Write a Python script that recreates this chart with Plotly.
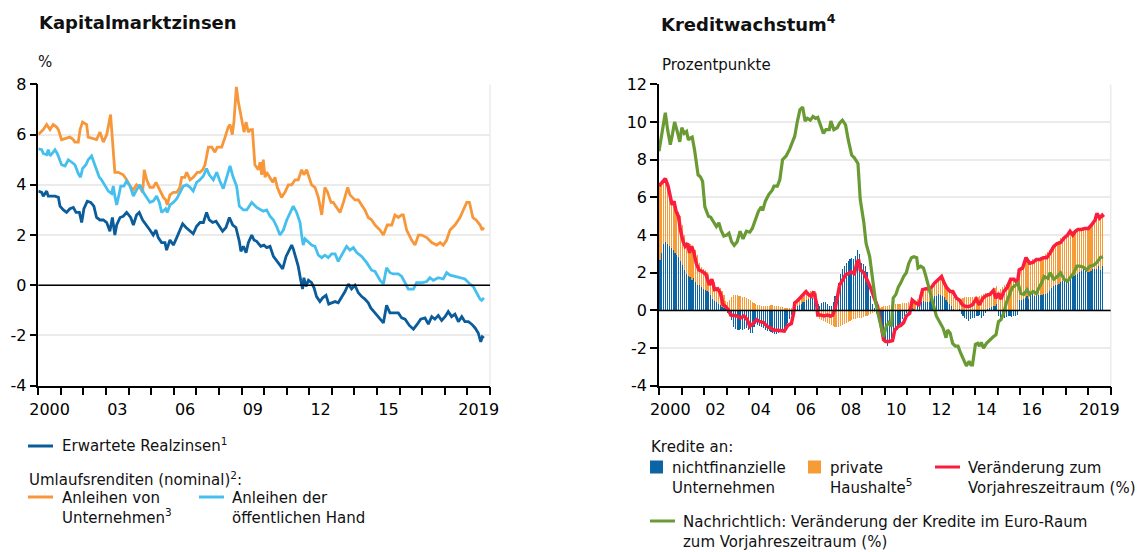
import plotly.graph_objects as go

# ---------------- Left chart: Kapitalmarktzinsen ----------------
real_t = [0.00,0.15,0.22,0.37,0.44,0.59,0.74,0.89,0.96,1.11,1.25,1.40,1.55,1.67,1.82,1.92,2.02,2.17,2.32,2.46,
          2.58,2.73,2.88,3.03,3.17,3.28,3.39,3.47,3.62,3.76,3.91,4.09,4.21,4.35,4.47,4.62,4.80,4.94,5.09,5.21,
          5.31,5.46,5.61,5.68,5.83,5.98,6.13,6.27,6.39,6.54,6.69,6.86,7.01,7.16,7.31,7.45,7.57,7.72,7.87,8.01,
          8.16,8.31,8.46,8.61,8.75,8.90,8.97,9.08,9.20,9.30,9.45,9.55,9.67,9.85,9.99,10.11,10.26,10.41,10.55,10.70,
          10.82,10.97,11.11,11.22,11.29,11.41,11.51,11.62,11.70,11.76,11.85,11.96,12.10,12.21,12.32,12.47,12.59,12.74,12.86,12.99,
          13.14,13.28,13.43,13.58,13.73,13.87,14.02,14.17,14.32,14.46,14.61,14.72,14.86,15.06,15.28,15.42,15.57,15.72,15.94,16.09,
          16.24,16.43,16.61,16.78,16.93,17.12,17.27,17.42,17.56,17.71,17.86,18.01,18.15,18.30,18.45,18.60,18.75,18.89,19.04,19.19,
          19.34,19.48,19.59,19.66,19.73]
real_v = [3.75,3.7,3.55,3.75,3.55,3.55,3.55,3.5,3.15,3.0,2.9,3.05,3.1,2.9,2.9,2.5,3.05,3.35,3.3,3.15,
          2.7,2.6,2.6,2.5,2.15,2.7,2.0,2.4,2.7,2.75,2.9,2.7,2.4,2.8,2.9,2.6,2.4,2.2,2.0,2.2,
          1.9,1.7,1.7,1.4,1.8,1.6,1.9,2.2,2.45,2.3,2.2,2.05,2.35,2.5,2.5,2.9,2.6,2.5,2.55,2.35,
          2.15,2.3,2.7,2.4,2.3,1.75,1.35,1.55,1.3,1.7,2.0,1.8,1.75,1.55,1.6,1.5,1.55,1.15,1.0,0.8,
          0.65,1.15,1.4,1.6,1.45,1.05,0.75,0.2,-0.15,0.3,-0.05,0.2,0.1,-0.1,-0.45,-0.65,-0.5,-0.4,-0.75,-0.7,
          -0.65,-0.7,-0.5,-0.25,0.05,-0.15,0.0,-0.3,-0.45,-0.55,-0.7,-0.9,-1.05,-1.25,-1.5,-0.8,-1.1,-1.1,-1.1,-1.3,
          -1.35,-1.6,-1.75,-1.55,-1.35,-1.3,-1.55,-1.25,-1.35,-1.2,-1.4,-1.25,-1.05,-1.25,-1.15,-1.45,-1.25,-1.45,-1.45,-1.55,
          -1.7,-1.9,-2.25,-2.05,-2.1]

corp_t = [0.00,0.22,0.37,0.52,0.66,0.81,0.89,1.03,1.40,1.55,1.62,1.77,1.85,1.96,2.14,2.21,2.58,2.73,2.88,3.03,
          3.20,3.39,3.54,3.76,3.91,4.10,4.21,4.35,4.50,4.62,4.69,4.80,4.94,5.09,5.21,5.36,5.54,5.64,5.71,5.83,
          5.98,6.13,6.27,6.35,6.49,6.57,6.72,6.86,6.97,7.04,7.16,7.28,7.38,7.53,7.68,7.82,7.93,8.12,8.27,8.41,
          8.49,8.59,8.66,8.77,8.86,8.96,9.11,9.20,9.30,9.40,9.48,9.59,9.74,9.82,9.89,9.96,10.04,10.11,10.26,10.38,
          10.48,10.58,10.77,10.92,11.07,11.22,11.37,11.51,11.66,11.76,11.88,12.10,12.25,12.40,12.55,12.62,12.69,12.81,12.96,13.06,
          13.21,13.36,13.51,13.62,13.70,13.80,14.02,14.17,14.46,14.61,14.76,14.91,15.13,15.28,15.45,15.65,15.79,15.94,16.09,16.16,
          16.31,16.53,16.68,16.83,16.97,17.20,17.42,17.64,17.79,17.93,18.08,18.23,18.45,18.67,18.82,18.97,19.09,19.24,19.38,19.56,
          19.65,19.73]
corp_v = [6.0,6.2,6.4,6.2,6.4,6.3,6.2,5.8,5.9,5.8,5.7,5.7,6.2,6.5,6.4,5.9,5.8,6.1,5.7,6.0,
          6.8,4.5,4.5,4.4,4.2,3.9,3.8,4.0,3.9,3.7,4.6,4.2,3.9,3.9,4.1,3.8,3.5,3.4,3.2,3.6,
          3.7,3.7,3.9,4.3,4.3,4.5,4.2,4.3,4.4,4.5,4.5,4.6,4.8,5.5,5.5,5.3,5.5,5.5,5.9,6.3,
          6.4,6.0,6.5,7.9,7.3,6.8,6.1,6.5,6.1,6.2,6.2,4.8,4.6,4.9,4.4,5.0,4.3,4.5,4.3,4.1,
          4.3,3.9,3.5,3.7,4.0,4.0,4.2,4.2,4.6,4.4,4.6,4.0,3.9,3.5,2.8,3.5,3.9,3.7,3.3,3.3,
          3.1,2.9,3.3,3.6,3.9,3.6,3.4,3.4,3.0,2.7,2.6,2.4,2.2,2.0,2.4,2.4,2.8,2.7,2.8,2.8,
          2.2,1.8,1.6,2.0,2.0,1.9,1.7,1.6,1.7,1.6,1.8,2.2,2.4,2.7,3.0,3.3,3.3,2.7,2.6,2.4,
          2.2,2.3]

govt_t = [0.00,0.15,0.22,0.37,0.44,0.52,0.66,0.74,0.84,1.03,1.18,1.33,1.48,1.62,1.77,1.87,1.96,2.11,2.21,2.36,
          2.44,2.58,2.70,2.80,2.95,3.10,3.25,3.32,3.39,3.47,3.57,3.65,3.79,3.91,4.06,4.21,4.35,4.50,4.65,4.80,
          4.94,5.09,5.24,5.36,5.46,5.64,5.71,5.83,5.98,6.13,6.27,6.42,6.57,6.72,6.86,7.01,7.16,7.31,7.45,7.57,
          7.75,7.90,8.04,8.19,8.34,8.49,8.63,8.78,8.90,9.08,9.23,9.45,9.67,9.96,10.11,10.26,10.41,10.55,10.70,10.85,
          11.00,11.14,11.29,11.44,11.59,11.66,11.73,11.81,11.96,12.10,12.25,12.40,12.55,12.69,12.84,12.99,13.14,13.28,13.43,13.65,
          13.80,13.95,14.10,14.32,14.54,14.76,14.91,15.13,15.28,15.42,15.57,15.72,15.94,16.09,16.24,16.38,16.61,16.75,16.97,17.20,
          17.34,17.49,17.71,17.93,18.08,18.23,18.45,18.67,18.89,19.11,19.26,19.41,19.56,19.63,19.73]
govt_v = [5.43,5.4,5.25,5.2,5.4,5.15,5.3,5.4,5.25,4.8,4.75,5.0,4.9,4.8,4.45,4.3,4.65,4.8,5.0,5.15,
          4.95,4.6,4.3,4.2,3.95,3.75,3.65,3.95,3.55,3.2,3.6,3.95,3.95,4.15,3.95,3.55,3.8,4.0,3.7,3.5,
          3.3,3.35,3.55,3.3,2.9,3.05,2.9,3.2,3.3,3.45,3.7,3.95,4.0,3.9,3.75,4.1,4.2,4.35,4.65,4.4,
          4.2,4.5,4.15,3.85,4.3,4.75,4.3,3.95,3.15,3.0,3.0,3.3,3.1,2.95,3.0,2.75,2.6,2.35,2.0,2.2,
          2.6,2.9,3.15,2.9,2.5,2.0,1.6,1.85,1.7,1.6,1.55,1.2,1.1,1.2,1.1,1.25,1.25,0.95,1.2,1.55,
          1.4,1.5,1.3,1.15,0.9,0.6,0.55,0.2,0.05,0.7,0.5,0.45,0.45,0.35,0.1,-0.15,-0.15,0.1,0.1,0.15,
          0.3,0.2,0.3,0.25,0.5,0.4,0.35,0.3,0.25,0.05,-0.05,-0.3,-0.55,-0.6,-0.5]

left_ticks = [2000.5, 2003.5, 2006.5, 2009.5, 2012.5, 2015.5, 2019.5]
left_labels = ["2000", "03", "06", "09", "12", "15", "2019"]

# ---------------- Right chart: Kreditwachstum ----------------
nfc_contrib = [  # nichtfinanzielle Unternehmen, monthly from Jan 2000
    2.65,3.0,3.5,3.6,3.5,3.4,3.3,3.2,3.05,2.9,2.8,2.6,
    2.4,2.1,1.9,1.8,1.75,1.6,1.7,1.5,1.35,1.3,1.2,1.1,
    1.05,1.0,0.95,0.8,0.6,0.5,0.4,0.3,0.25,0.15,0.1,0.05,
    -0.15,-0.3,-0.55,-0.9,-1.0,-1.05,-1.05,-1.0,-1.05,-1.0,-0.95,-1.05,
    -1.2,-1.2,-0.9,-0.75,-0.8,-0.85,-0.9,-0.95,-1.05,-1.1,-1.1,-1.15,
    -1.2,-1.25,-1.25,-1.2,-1.15,-1.1,-1.0,-0.85,-0.7,-0.5,-0.25,-0.1,
    0.05,0.2,0.25,0.3,0.4,0.45,0.55,0.6,0.65,0.65,0.55,0.5,
    0.3,0.2,0.35,0.4,0.4,0.3,0.2,0.2,0.45,0.75,0.75,1.45,
    1.9,2.15,2.35,2.5,2.6,2.7,2.75,2.7,2.85,3.2,2.95,2.5,
    2.45,2.35,2.0,1.4,0.75,0.3,0.1,-0.15,-0.3,-0.6,-1.2,-1.6,
    -1.75,-1.9,-1.7,-1.5,-1.3,-1.1,-1.05,-0.9,-0.7,-0.5,-0.3,-0.15,
    0.05,0.1,0.1,0.05,-0.05,0.2,0.35,0.45,0.5,0.4,0.4,0.4,
    0.65,0.7,0.75,0.75,0.85,0.8,0.75,0.7,0.55,0.4,0.3,0.2,
    0.05,0.0,0.0,0.05,-0.2,-0.3,-0.4,-0.5,-0.6,-0.5,-0.45,-0.4,
    -0.3,-0.3,-0.25,-0.4,-0.3,-0.15,0.05,0.1,0.15,0.2,0.2,0.3,
    -0.3,-0.4,-0.4,-0.4,-0.35,-0.3,-0.3,-0.35,-0.3,-0.3,-0.25,0.55,
    0.55,0.6,0.65,0.75,0.6,0.8,0.85,0.75,0.8,0.8,0.8,0.8,
    0.85,0.85,0.9,1.0,1.15,1.25,1.35,1.35,1.4,1.5,1.55,1.6,
    1.65,1.65,1.7,1.8,1.8,1.85,1.9,2.0,2.05,2.15,2.1,2.0,
    2.0,2.05,2.15,2.15,2.2,2.35,2.1,2.35]
hh_contrib = [  # private Haushalte, monthly from Jan 2000
    3.95,3.7,3.3,3.3,3.1,2.8,2.6,2.5,2.75,2.6,2.4,2.4,
    2.1,1.9,1.7,1.6,1.75,1.5,1.7,1.7,1.55,1.2,1.1,1.05,
    1.05,1.0,0.95,0.8,0.8,1.0,0.8,0.8,0.9,0.85,0.7,0.45,
    0.4,0.55,0.7,0.8,0.8,0.8,0.75,0.75,0.7,0.7,0.65,0.6,
    0.55,0.45,0.35,0.3,0.25,0.25,0.2,0.2,0.2,0.2,0.2,0.25,
    0.25,0.2,0.2,0.2,0.15,0.15,0.1,0.1,0.1,0.1,0.1,0.1,
    0.35,0.3,0.3,0.35,0.3,0.35,0.3,0.3,0.35,0.25,0.3,0.4,
    -0.1,-0.5,-0.55,-0.6,-0.65,-0.7,-0.75,-0.8,-0.85,-0.9,-0.9,-0.9,
    -0.85,-0.8,-0.75,-0.7,-0.65,-0.6,-0.55,-0.5,-0.5,-0.45,-0.4,-0.4,
    -0.35,-0.3,-0.3,-0.25,-0.2,-0.15,-0.1,-0.05,0.05,0.1,0.15,0.2,
    0.2,0.2,0.25,0.25,0.3,0.3,0.3,0.3,0.3,0.35,0.35,0.35,
    0.35,0.35,0.35,0.35,0.35,0.4,0.45,0.5,0.55,0.6,0.65,0.7,
    0.55,0.6,0.7,0.8,0.85,0.9,0.9,0.85,0.8,0.75,0.7,0.7,
    0.65,0.6,0.6,0.55,0.6,0.65,0.7,0.7,0.7,0.7,0.7,0.7,
    0.7,0.7,0.75,0.8,0.85,0.9,0.85,0.8,0.85,0.9,0.95,0.95,
    1.0,1.1,1.2,1.3,1.4,1.45,1.5,1.55,1.6,1.65,1.7,1.65,
    1.7,1.75,2.0,1.8,1.9,1.8,1.85,1.9,1.95,1.95,2.0,2.0,
    2.0,2.1,2.2,2.2,2.2,2.2,2.2,2.2,2.25,2.3,2.3,2.3,
    2.35,2.4,2.5,2.4,2.4,2.45,2.4,2.3,2.25,2.2,2.25,2.35,
    2.35,2.4,2.45,2.6,2.7,2.75,2.9,2.7]

total_t = [0.00,0.12,0.28,0.40,0.50,0.58,0.66,0.76,0.86,0.96,1.07,1.16,1.27,1.35,1.42,1.53,1.65,1.77,1.93,2.08,
           2.23,2.34,2.46,2.60,2.72,2.84,2.95,3.06,3.18,3.33,3.46,3.61,3.76,3.91,4.02,4.17,4.33,4.48,4.63,4.79,
           4.94,5.09,5.24,5.40,5.55,5.70,5.86,5.96,6.01,6.12,6.24,6.36,6.51,6.62,6.73,6.85,6.97,7.03,7.16,7.31,
           7.46,7.58,7.69,7.80,7.89,8.00,8.15,8.26,8.38,8.50,8.65,8.76,8.84,8.91,9.07,9.22,9.37,9.53,9.68,9.83,
           9.94,10.03,10.18,10.34,10.44,10.60,10.70,10.83,10.95,11.10,11.21,11.36,11.51,11.67,11.82,11.97,12.08,12.20,12.35,12.51,
           12.63,12.74,12.89,13.01,13.17,13.30,13.43,13.58,13.73,13.88,14.04,14.19,14.34,14.50,14.65,14.80,14.92,15.03,15.14,15.26,
           15.41,15.57,15.72,15.87,15.95,16.10,16.25,16.41,16.56,16.71,16.86,17.02,17.17,17.32,17.48,17.63,17.78,17.94,18.09,18.20,
           18.32,18.44,18.55,18.70,18.85,19.01,19.16,19.31,19.39,19.51,19.62,19.69]
total_v = [6.6,6.75,7.0,6.6,5.95,5.6,5.8,5.25,5.0,4.2,3.65,3.4,3.55,3.05,3.4,3.15,2.5,2.15,2.05,1.9,
           1.35,1.65,1.1,1.15,0.9,0.3,0.2,0.05,-0.25,-0.3,-0.3,-0.4,-0.3,-0.5,-0.85,-0.7,-0.5,-0.6,-0.65,-0.85,
           -0.95,-1.05,-1.05,-1.1,-1.1,-0.8,-0.7,-0.15,0.4,0.5,0.65,0.8,1.0,0.85,0.75,1.0,0.4,-0.25,-0.25,-0.3,
           -0.25,-0.3,-0.25,0.1,0.75,1.35,1.65,1.9,1.95,2.05,1.95,2.5,2.7,2.15,2.0,1.65,1.2,0.65,0.2,-0.75,
           -1.55,-1.65,-1.65,-1.6,-1.05,-0.85,-0.8,-0.65,-0.3,-0.15,0.55,0.4,0.3,1.1,1.15,1.15,1.25,1.45,1.65,1.8,
           1.45,1.2,1.0,1.0,0.65,0.55,0.3,0.2,0.2,0.3,0.6,0.3,0.65,0.8,0.85,1.05,0.65,0.9,0.6,1.0,
           1.2,1.65,1.65,1.45,2.15,2.25,2.8,2.5,2.55,2.7,2.7,2.8,2.8,3.05,3.4,3.55,3.6,3.85,4.0,4.2,
           4.0,4.2,4.3,4.3,4.35,4.35,4.55,4.8,5.15,4.9,5.05,4.95]

euro_t = [0.00,0.12,0.28,0.38,0.50,0.58,0.69,0.81,0.92,1.01,1.12,1.22,1.30,1.38,1.47,1.57,1.73,1.83,1.93,2.03,
          2.19,2.29,2.42,2.54,2.65,2.75,2.87,3.00,3.10,3.21,3.33,3.46,3.59,3.72,3.87,4.02,4.13,4.25,4.40,4.53,
          4.59,4.71,4.86,5.02,5.09,5.24,5.35,5.47,5.63,5.78,5.90,6.01,6.12,6.24,6.36,6.47,6.57,6.70,6.82,6.93,
          7.03,7.16,7.28,7.39,7.54,7.61,7.74,7.89,8.00,8.12,8.26,8.38,8.53,8.65,8.81,8.91,9.07,9.17,9.33,9.48,
          9.60,9.72,9.83,9.94,10.06,10.18,10.29,10.37,10.49,10.60,10.70,10.83,10.95,11.06,11.18,11.28,11.41,11.47,11.59,11.71,
          11.82,11.93,12.05,12.17,12.28,12.43,12.58,12.71,12.78,12.89,13.00,13.12,13.24,13.35,13.50,13.61,13.73,13.81,13.88,14.01,
          14.11,14.19,14.27,14.37,14.50,14.65,14.80,14.92,15.03,15.14,15.26,15.38,15.49,15.64,15.80,15.90,16.02,16.15,16.30,16.41,
          16.56,16.71,16.82,16.94,17.06,17.22,17.32,17.48,17.63,17.78,17.94,18.09,18.24,18.35,18.50,18.62,18.78,18.93,19.08,19.24,
          19.39,19.54,19.66]
euro_v = [8.45,9.4,10.5,9.6,8.8,9.25,10.0,9.5,8.95,9.7,9.4,9.5,9.05,9.15,9.2,8.55,7.2,7.1,6.85,5.5,
          5.0,4.95,4.65,4.45,4.65,4.25,3.95,4.0,4.1,3.65,3.45,3.65,4.2,3.8,4.2,4.15,4.35,4.8,5.25,5.5,
          5.3,5.8,6.15,6.4,6.6,6.6,6.95,8.0,8.2,8.55,8.9,9.25,10.0,10.65,10.8,10.05,10.2,10.1,10.3,10.2,
          10.25,9.85,9.4,9.6,9.6,10.05,9.6,9.7,9.95,10.1,9.85,9.05,8.25,8.1,7.8,5.9,4.65,3.55,2.85,1.45,
          0.4,-0.3,-0.85,-1.4,-0.85,-0.65,-0.85,0.65,0.85,1.25,1.45,1.8,2.0,2.5,2.8,2.85,2.8,2.25,2.35,2.25,
          1.8,1.25,0.75,0.2,-0.3,-0.6,-0.95,-1.45,-1.05,-1.2,-1.75,-1.9,-1.9,-2.25,-2.7,-2.95,-2.7,-2.9,-2.9,-1.8,
          -1.75,-1.9,-1.7,-2.0,-1.75,-1.55,-1.4,-1.3,-0.6,-0.5,-0.15,0.4,0.75,1.2,1.35,1.45,0.9,0.85,1.1,0.85,
          1.0,0.9,1.2,1.45,1.8,1.7,2.0,1.65,1.8,2.0,1.65,1.55,1.8,1.95,2.35,2.35,2.3,2.15,2.35,2.4,
          2.55,2.8,2.85]

right_ticks = [2000.5, 2002.5, 2004.5, 2006.5, 2008.5, 2010.5, 2012.5, 2014.5, 2016.5, 2019.5]
right_labels = ["2000", "02", "04", "06", "08", "10", "12", "14", "16", "2019"]

# ---------------- Colours ----------------
C_DARK = "#0a5c9a"
C_ORANGE = "#f7973a"
C_LIGHT = "#45c0ee"
C_BAR_BLUE = "rgba(8,99,163,0.99)"
C_BAR_ORANGE = "rgba(247,154,53,0.99)"
C_RED = "#fb1d3d"
C_GREEN = "#6a9a34"
GRID = "#ebebeb"
FONT = "DejaVu Sans"
W, H = 1141, 552

fig = go.Figure()

fig.add_trace(go.Scatter(x=[2000 + t for t in corp_t], y=corp_v, mode="lines",
                         line=dict(color=C_ORANGE, width=2.8), xaxis="x", yaxis="y"))
fig.add_trace(go.Scatter(x=[2000 + t for t in govt_t], y=govt_v, mode="lines",
                         line=dict(color=C_LIGHT, width=2.8), xaxis="x", yaxis="y"))
fig.add_trace(go.Scatter(x=[2000 + t for t in real_t], y=real_v, mode="lines",
                         line=dict(color=C_DARK, width=2.8), xaxis="x", yaxis="y"))

months = [2000 + (i + 0.5) / 12 for i in range(len(nfc_contrib))]
fig.add_trace(go.Bar(x=months, y=nfc_contrib, width=0.6 / 12, marker=dict(color=C_BAR_BLUE, line=dict(width=0)),
                     xaxis="x2", yaxis="y2"))
fig.add_trace(go.Bar(x=months, y=hh_contrib, width=0.6 / 12, marker=dict(color=C_BAR_ORANGE, line=dict(width=0)),
                     xaxis="x2", yaxis="y2"))
fig.add_trace(go.Scatter(x=[2000 + t for t in total_t], y=total_v, mode="lines",
                         line=dict(color=C_RED, width=3.5), xaxis="x2", yaxis="y2"))
fig.add_trace(go.Scatter(x=[2000 + t for t in euro_t], y=euro_v, mode="lines",
                         line=dict(color=C_GREEN, width=3.2), xaxis="x2", yaxis="y2"))

def xaxis_cfg(domain, tickvals, ticktext, anchor):
    return dict(domain=domain, range=[2000, 2020], tickmode="array", tickvals=tickvals, ticktext=ticktext,
                ticks="outside", ticklen=8, tickcolor="rgba(0,0,0,0)", showgrid=False, zeroline=False,
                showline=True, linecolor="black", linewidth=1.5, anchor=anchor, automargin=False,
                tickfont=dict(family=FONT, size=16, color="black"),
                minor=dict(tick0=2000, dtick=1, ticks="outside", ticklen=8, tickcolor="black",
                           tickwidth=1.5, showgrid=False),
                fixedrange=True)

def yaxis_cfg(domain, lo, hi, anchor):
    vals = list(range(lo, hi + 1, 2))
    return dict(domain=domain, range=[lo, hi], tickmode="array", tickvals=vals,
                ticktext=[str(v) for v in vals], ticks="outside", ticklen=7, tickwidth=1.5, tickcolor="black",
                showline=True, linecolor="black", linewidth=1.5, showgrid=True, gridcolor=GRID, gridwidth=1.5,
                zeroline=False, anchor=anchor, automargin=False,
                tickfont=dict(family=FONT, size=16, color="black"), fixedrange=True)

ydom = [(H - 385.7) / H, (H - 84.4) / H]
xl = [38.3 / W, 490.0 / W]
xr = [659.0 / W, 1110.7 / W]

fig.update_layout(
    width=W, height=H, autosize=False,
    margin=dict(l=0, r=0, t=0, b=0, pad=0, autoexpand=False),
    paper_bgcolor="white", plot_bgcolor="white", showlegend=False,
    barmode="relative", bargap=0,
    font=dict(family=FONT, size=15, color="#111111"),
    xaxis=xaxis_cfg(xl, left_ticks, left_labels, "y"), yaxis=yaxis_cfg(ydom, -4, 8, "x"),
    xaxis2=xaxis_cfg(xr, right_ticks, right_labels, "y2"), yaxis2=yaxis_cfg(ydom, -4, 12, "x2"),
)

shapes = []
for dom in (xl, xr):
    shapes.append(dict(type="line", xref="paper", yref="paper", x0=dom[1], x1=dom[1], y0=ydom[0], y1=ydom[1],
                       line=dict(color=GRID, width=1.5), layer="below"))
shapes.append(dict(type="line", xref="x domain", yref="y", x0=0, x1=1, y0=0, y1=0,
                   line=dict(color="black", width=1.5), layer="above"))
shapes.append(dict(type="line", xref="x2 domain", yref="y2", x0=0, x1=1, y0=0, y1=0,
                   line=dict(color="black", width=1.5), layer="above"))

def px(x): return x / W
def py(y): return 1 - y / H

def leg_line(x0, x1, y, color, width=3):
    shapes.append(dict(type="line", xref="paper", yref="paper", x0=px(x0), x1=px(x1), y0=py(y), y1=py(y),
                       line=dict(color=color, width=width)))

def leg_box(x0, y, color, size=13):
    shapes.append(dict(type="rect", xref="paper", yref="paper", x0=px(x0), x1=px(x0 + size),
                       y0=py(y + size / 2), y1=py(y - size / 2), line=dict(width=0), fillcolor=color))

leg_line(28, 53, 446, C_DARK)
leg_line(28, 53, 497, C_ORANGE)
leg_line(199, 224, 497, C_LIGHT)
leg_box(650, 467, C_BAR_BLUE)
leg_box(808, 467, C_BAR_ORANGE)
leg_line(935, 960, 467, C_RED)
leg_line(650, 675, 521, C_GREEN)

annotations = []
def txt(x, y, s, size=15, bold=False, yanchor="middle"):
    annotations.append(dict(xref="paper", yref="paper", x=px(x), y=py(y), text=("<b>%s</b>" % s) if bold else s,
                            showarrow=False, xanchor="left", yanchor=yanchor, align="left",
                            font=dict(family=FONT, size=size, color="#111111")))

txt(37, 23, "Kapitalmarktzinsen", size=18, bold=True)
txt(659, 23, "Kreditwachstum<sup>4</sup>", size=18, bold=True)
txt(36, 62, "%")
txt(660, 65, "Prozentpunkte")

txt(60, 445, "Erwartete Realzinsen<sup>1</sup>")
txt(27, 479, "Umlaufsrenditen (nominal)<sup>2</sup>:")
txt(60, 487, "Anleihen von<br>Unternehmen<sup>3</sup>", yanchor="top")
txt(230, 487, "Anleihen der<br>öffentlichen Hand", yanchor="top")

txt(649, 447, "Kredite an:")
txt(670, 457, "nichtfinanzielle<br>Unternehmen", yanchor="top")
txt(828, 457, "private<br>Haushalte<sup>5</sup>", yanchor="top")
txt(966, 457, "Veränderung zum<br>Vorjahreszeitraum (%)", yanchor="top")
txt(681, 511, "Nachrichtlich: Veränderung der Kredite im Euro-Raum<br>zum Vorjahreszeitraum (%)", yanchor="top")

fig.update_layout(shapes=shapes, annotations=annotations)
fig.write_html("out.html", config={"displayModeBar": False, "staticPlot": False},
               post_script="document.body.style.margin='0';document.body.style.padding='0';"
                           "document.documentElement.style.overflow='hidden';")
